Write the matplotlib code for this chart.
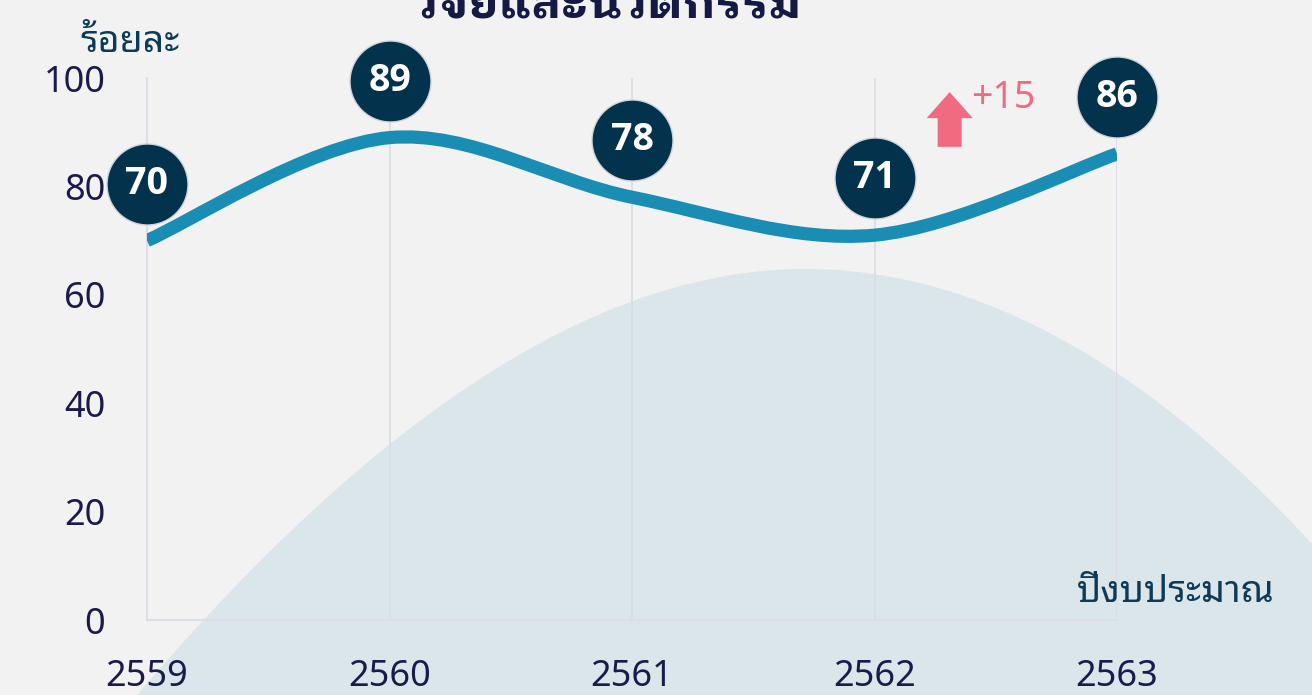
import numpy as np
import matplotlib
matplotlib.use("Agg")
import matplotlib.pyplot as plt
from matplotlib.path import Path
from matplotlib.patches import PathPatch, FancyArrow

plt.rcParams['font.family'] = ['Noto Sans Thai Looped', 'Noto Sans', 'DejaVu Sans']

# data
years = [2559, 2560, 2561, 2562, 2563]
values = [70, 89, 78, 71, 86]
yticks = [0, 20, 40, 60, 80, 100]
title = "วิจัยและนวัตกรรม"
ylabel = "ร้อยละ"
xlabel = "ปีงบประมาณ"
change_label = "+15"

navy = "#03324d"
line_col = "#1a8db5"
tick_col = "#1b1b4b"
label_col = "#0d3b57"
pink = "#f06b80"
grid_col = "#dcdde5"

fig = plt.figure(figsize=(13.12, 6.95), dpi=100)
fig.patch.set_facecolor("#f2f2f2")

# decorative background hump, in figure pixels
bg = fig.add_axes([0, 0, 1, 1], zorder=0)
bg.set_xlim(0, 1312)
bg.set_ylim(695, 0)
bg.axis("off")
xs = np.linspace(0, 1312, 800)
dx = xs - 805
u = np.where(dx < 0, dx ** 2 / (880 + 0.25 * np.abs(dx)), dx ** 2 / 935)
bg.fill_between(xs, 269 + u, 800, color="#dae6ea", lw=0)

ax = fig.add_axes([147 / 1312, 75 / 695, 970 / 1312, 542 / 695], zorder=1)
ax.patch.set_alpha(0)
ax.set_xlim(2559, 2563)
ax.set_ylim(0, 100)
for s in ["top", "right"]:
    ax.spines[s].set_visible(False)
for s in ["left", "bottom"]:
    ax.spines[s].set_color(grid_col)
    ax.spines[s].set_linewidth(1.5)
ax.set_xticks(years)
ax.set_xticklabels([str(y) for y in years])
ax.set_yticks(yticks)
ax.tick_params(length=0, labelsize=26, colors=tick_col)
ax.tick_params(axis="y", pad=30)
ax.tick_params(axis="x", pad=28)
ax.grid(axis="x", color=grid_col, lw=1.3)
ax.set_axisbelow(True)

# smoothed line (catmull-rom style bezier, like office smoothing)
px = np.array(years, dtype=float)
py = np.array(values, dtype=float)
pts = [(px[0], py[0])]
codes = [Path.MOVETO]
n = len(px)
for i in range(n - 1):
    p0 = np.array([px[max(i - 1, 0)], py[max(i - 1, 0)]])
    p1 = np.array([px[i], py[i]])
    p2 = np.array([px[i + 1], py[i + 1]])
    p3 = np.array([px[min(i + 2, n - 1)], py[min(i + 2, n - 1)]])
    c1 = p1 + (p2 - p0) / 6
    c2 = p2 - (p3 - p1) / 6
    pts += [tuple(c1), tuple(c2), tuple(p2)]
    codes += [Path.CURVE4] * 3
ax.add_patch(PathPatch(Path(pts, codes), fill=False, edgecolor=line_col,
                       lw=9.5, capstyle="butt", joinstyle="round", zorder=3))

# value bubbles
bub_y = [v + 10.5 for v in values]
ax.scatter(years, bub_y, s=3400, color=navy, edgecolor="#cfd4dc", lw=1,
           zorder=5, clip_on=False)
for x, yb, v in zip(years, bub_y, values):
    ax.text(x, yb, str(v), ha="center", va="center", color="white",
            fontsize=27, fontweight="bold", family=["Open Sans", "DejaVu Sans"],
            zorder=6)

# change marker
ax.add_patch(FancyArrow(2562.31, 87.3, 0, 10.1, width=0.099, head_width=0.19,
                        head_length=4.8, length_includes_head=True,
                        color=pink, lw=0, clip_on=False, zorder=4))
ax.text(2562.40, 96.3, change_label, color=pink, fontsize=27,
        ha="left", va="center")

fig.text(80 / 1312, 1 - 42 / 695, ylabel, color=label_col, fontsize=27,
         ha="left", va="center")
fig.text(1275 / 1312, 1 - 592 / 695, xlabel, color=label_col, fontsize=27,
         ha="right", va="center")
fig.text(607 / 1312, 1 - 17 / 695, title, color="#151a45", fontsize=34,
         fontweight="bold", family=["IBM Plex Sans Thai Looped", "Noto Sans Thai Looped"],
         ha="center", va="baseline")

fig.savefig("out.png", dpi=100, facecolor=fig.get_facecolor())
